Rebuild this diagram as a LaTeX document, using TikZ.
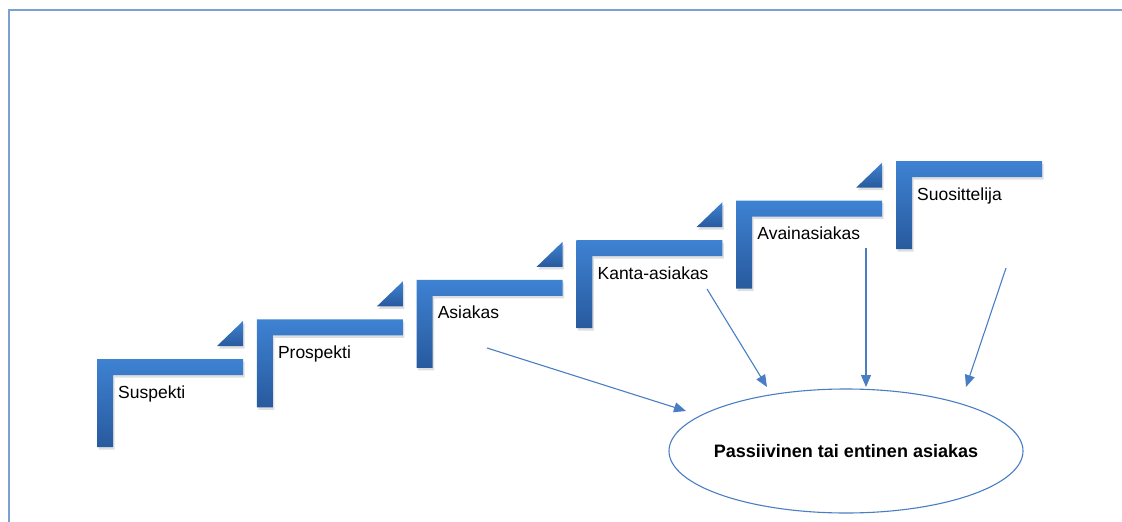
\documentclass[tikz,border=0pt]{standalone}
\usepackage{fontspec}
\setmainfont{Liberation Sans}
\usetikzlibrary{shadows,arrows.meta,shapes.geometric}
\definecolor{stairtop}{RGB}{62,130,210}
\definecolor{stairbot}{RGB}{40,90,158}
\definecolor{arrowblue}{RGB}{74,126,196}
\definecolor{framecol}{RGB}{125,160,210}
\tikzset{
  stair/.style={top color=stairtop, bottom color=stairbot, draw=none,
    drop shadow={opacity=0.25, shadow xshift=1.5pt, shadow yshift=-2.5pt}},
  stairlabel/.style={anchor=base west, inner sep=0pt, font=\fontsize{17.5}{20}\selectfont, text=black},
  conn/.style={draw=arrowblue, line width=1.1pt, -{Triangle[length=12pt,width=10pt]}},
  passive/.style={ellipse, draw=arrowblue, line width=1.1pt, minimum width=354pt, minimum height=124pt, inner sep=0pt},
  passivetext/.style={inner sep=0pt, font=\fontsize{18}{21}\selectfont\bfseries, text=black},
}
\begin{document}
\begin{tikzpicture}[x=1pt,y=-1pt]
\useasboundingbox (0,0) rectangle (1122,522);
\draw[framecol, line width=2pt] (8.5,522) -- (8.5,9.5) -- (1122,9.5);
\foreach \i/\lab in {0/Suspekti,1/Prospekti,2/Asiakas,3/Kanta-asiakas,4/Avainasiakas,5/Suosittelija} {
  \pgfmathsetmacro\X{97+159.8*\i}
  \pgfmathsetmacro\Y{359-39.6*\i}
  \shade[stair] (\X,\Y) -- ++(146,0) -- ++(0,16) -- ++(-130,0) -- ++(0,72) -- ++(-16,0) -- cycle;
  \ifnum\i<5
    \shade[stair] (\X+146,\Y-38) -- ++(0,25) -- ++(-26,0) -- cycle;
  \fi
  \node[stairlabel] (l\i) at (\X+21,\Y+39) {\lab};
}
\node[passive] (pass) at (846,451) {};
\node[passivetext] (passlabel) at (pass.center) {Passiivinen tai entinen asiakas};
\coordinate (a1s) at (487,348);  \coordinate (a1e) at (686,411);
\coordinate (a2s) at (707,289);  \coordinate (a2e) at (767,387);
\coordinate (a3s) at (866,248);  \coordinate (a3e) at (866,387);
\coordinate (a4s) at (1006,268); \coordinate (a4e) at (966,387);
\draw[conn] (a1s) -- (a1e);
\draw[conn] (a2s) -- (a2e);
\draw[conn] (a3s) -- (a3e);
\draw[conn] (a4s) -- (a4e);
\end{tikzpicture}
\end{document}
